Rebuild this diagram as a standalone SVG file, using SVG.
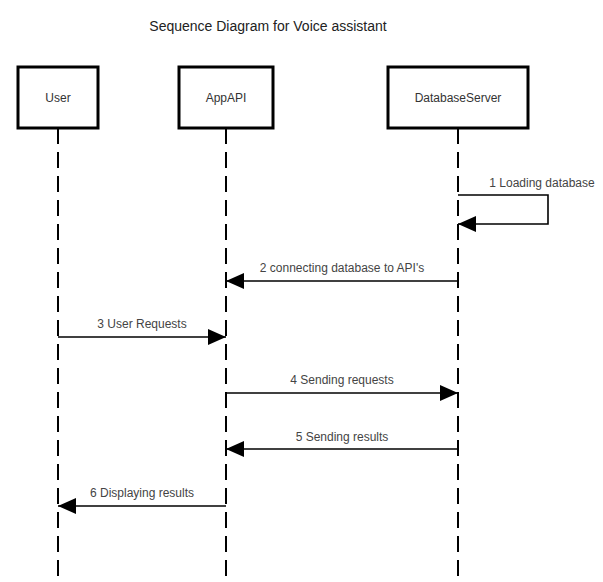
<svg xmlns="http://www.w3.org/2000/svg" width="603" height="582" viewBox="0 0 603 582">
  <style>
    .box { fill: #ffffff; stroke: #000000; stroke-width: 3; }
    .life { stroke: #000000; stroke-width: 2; stroke-dasharray: 16 8; fill: none; }
    .msg { stroke: #000000; stroke-width: 1.6; fill: none; }
    .lbl { font-family: "Liberation Sans", Arial, sans-serif; font-size: 12px; fill: #444444; text-anchor: middle; }
    .name { font-family: "Liberation Sans", Arial, sans-serif; font-size: 12px; fill: #333333; text-anchor: middle; }
    .title { font-family: "Liberation Sans", Arial, sans-serif; font-size: 14px; fill: #222222; text-anchor: middle; }
  </style>
  <defs>
    <marker id="arrow" viewBox="0 0 18 16" refX="18" refY="8" markerWidth="18" markerHeight="16" markerUnits="userSpaceOnUse" orient="auto">
      <path d="M0,0 L18,8 L0,16 Z" fill="#000000"/>
    </marker>
  </defs>
  <rect width="603" height="582" fill="#ffffff"/>
  <text class="title" x="268" y="31">Sequence Diagram for Voice assistant</text>

  <g id="lifelines">
    <line class="life" x1="58" y1="128" x2="58" y2="582"/>
    <line class="life" x1="226" y1="128" x2="226" y2="582"/>
    <line class="life" x1="458" y1="128" x2="458" y2="582"/>
  </g>

  <g id="user">
    <rect class="box" x="18" y="67" width="80" height="61"/>
    <text class="name" x="58" y="102">User</text>
  </g>
  <g id="appapi">
    <rect class="box" x="179" y="67" width="94" height="61"/>
    <text class="name" x="226" y="102">AppAPI</text>
  </g>
  <g id="databaseserver">
    <rect class="box" x="388" y="67" width="140" height="61"/>
    <text class="name" x="458" y="102">DatabaseServer</text>
  </g>

  <g id="connectors">
    <path class="msg" d="M458,195 L548,195 L548,224 L458,224" marker-end="url(#arrow)"/>
    <text class="lbl" x="542" y="187">1 Loading database</text>

    <line class="msg" x1="458" y1="281" x2="226" y2="281" marker-end="url(#arrow)"/>
    <text class="lbl" x="342" y="272">2 connecting database to API's</text>

    <line class="msg" x1="58" y1="337" x2="226" y2="337" marker-end="url(#arrow)"/>
    <text class="lbl" x="142" y="328">3 User Requests</text>

    <line class="msg" x1="226" y1="393" x2="458" y2="393" marker-end="url(#arrow)"/>
    <text class="lbl" x="342" y="384">4 Sending requests</text>

    <line class="msg" x1="458" y1="449" x2="226" y2="449" marker-end="url(#arrow)"/>
    <text class="lbl" x="342" y="441">5 Sending results</text>

    <line class="msg" x1="226" y1="506" x2="58" y2="506" marker-end="url(#arrow)"/>
    <text class="lbl" x="142" y="497">6 Displaying results</text>
  </g>
</svg>
